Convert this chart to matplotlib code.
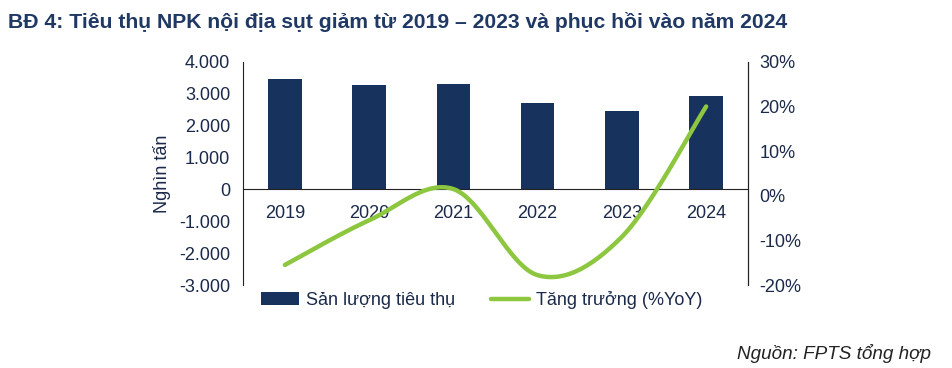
import numpy as np
import matplotlib.pyplot as plt
from matplotlib.ticker import FuncFormatter

plt.rcParams['font.family'] = ['Liberation Sans', 'DejaVu Sans']

years = ['2019', '2020', '2021', '2022', '2023', '2024']
consumption = [3450, 3260, 3300, 2700, 2450, 2920]   # nghìn tấn
growth = [-15.5, -5.5, 1.5, -17.8, -9.2, 20.0]         # %YoY

navy = '#17325C'
green = '#8DC63F'
text_col = '#1B2A4A'


def catmull_rom(x, y, n=30):
    # smooth curve through the points, like Excel's "smoothed line"
    xs, ys = [], []
    p = list(zip(x, y))
    p = [p[0]] + p + [p[-1]]
    for i in range(1, len(p) - 2):
        p0, p1, p2, p3 = [np.array(v, float) for v in p[i - 1:i + 3]]
        t = np.linspace(0, 1, n)[:, None]
        pts = 0.5 * ((2 * p1) + (-p0 + p2) * t + (2 * p0 - 5 * p1 + 4 * p2 - p3) * t ** 2
                     + (-p0 + 3 * p1 - 3 * p2 + p3) * t ** 3)
        xs.extend(pts[:, 0])
        ys.extend(pts[:, 1])
    return xs, ys


fig = plt.figure(figsize=(9.52, 3.68), dpi=100)
ax = fig.add_axes([0.255, 0.2255, 0.531, 0.6065])
ax2 = ax.twinx()

x = np.arange(len(years))
bars = ax.bar(x, consumption, width=0.4, color=navy, label='Sản lượng tiêu thụ', zorder=2)
ax.set_xlim(-0.5, len(years) - 0.5)
ax.set_ylim(-3000, 4000)
ax.set_yticks(range(-3000, 4001, 1000))
ax.yaxis.set_major_formatter(FuncFormatter(lambda v, p: f'{int(v):,}'.replace(',', '.')))
ax.set_xticks(x)
ax.set_xticklabels(years)
ax.spines['bottom'].set_position(('data', 0))
ax.spines['top'].set_visible(False)
ax.spines['bottom'].set_color('#222222')
ax.spines['left'].set_color('#222222')
ax.tick_params(axis='both', length=0, labelsize=13, colors=text_col, pad=9)
ax.tick_params(axis='x', pad=11)
ax.set_ylabel('Nghìn tấn', fontsize=13, color=text_col, labelpad=6)

sx, sy = catmull_rom(x, growth)
line, = ax2.plot(sx, sy, color=green, lw=3.2, solid_capstyle='round', label='Tăng trưởng (%YoY)', zorder=3)
ax2.set_ylim(-20, 30)
ax2.set_yticks(range(-20, 31, 10))
ax2.yaxis.set_major_formatter(FuncFormatter(lambda v, p: f'{int(v)}%'))
ax2.tick_params(axis='y', length=0, labelsize=13, colors=text_col, pad=8)
ax2.spines['top'].set_visible(False)
ax2.spines['bottom'].set_visible(False)
ax2.spines['left'].set_visible(False)
ax2.spines['right'].set_color('#222222')

fig.legend(handles=[bars, line], loc='center', bbox_to_anchor=(0.506, 0.185), ncol=2,
           frameon=False, fontsize=13, handlelength=2.1, columnspacing=2.0,
           handletextpad=0.4, labelcolor=text_col)

fig.text(0.008, 0.94, 'BĐ 4: Tiêu thụ NPK nội địa sụt giảm từ 2019 – 2023 và phục hồi vào năm 2024',
         fontsize=15.2, fontweight='bold', color='#1F3864', va='center')
fig.text(0.978, 0.04, 'Nguồn: FPTS tổng hợp', fontsize=13.6, style='italic',
         color='#222222', ha='right', va='center')

fig.savefig('out.png', dpi=100)
